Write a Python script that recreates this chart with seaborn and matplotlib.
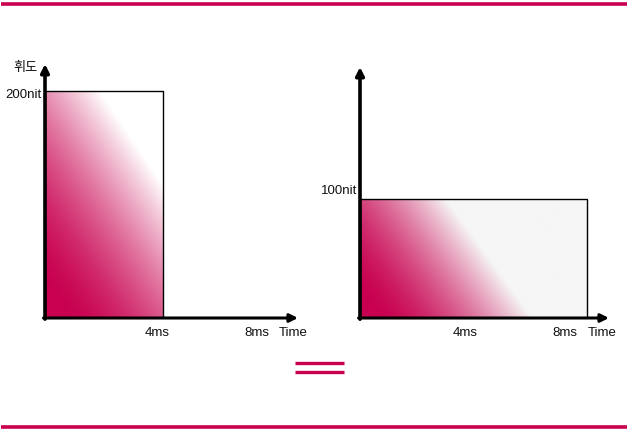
import numpy as np
import matplotlib
matplotlib.use("Agg")
import matplotlib.pyplot as plt
from matplotlib.patches import Rectangle
from matplotlib.lines import Line2D
import seaborn as sns

sns.set_theme(style="white")
plt.rcParams['font.family'] = ['Liberation Sans', 'Noto Sans CJK KR', 'DejaVu Sans']

# data: two driving schemes (pulse width vs luminance)
durations = [4, 8]            # ms
luminance = [200, 100]        # nit
lum_labels = ["200nit", "100nit"]
tick_vals = [4, 8]
tick_labels = ["4ms", "8ms"]
y_title = "휘도"
x_title = "Time"

crimson = np.array([200, 0, 79]) / 255.0
white = np.array([1.0, 1.0, 1.0])
light_gray = np.array([246, 246, 246]) / 255.0


def gradient(ny, nx, wx, wy, hold, end_color, power=1.6):
    # linear fade from the lower left corner, weights in normalised box coords
    u = np.linspace(0, 1, nx)[None, :]
    v = np.linspace(0, 1, ny)[:, None]
    t = u * wx + v * wy
    m = np.clip((t - hold) / (1 - hold), 0, 1) ** power
    img = crimson[None, None, :] * (1 - m[..., None]) + end_color[None, None, :] * m[..., None]
    return img


fig = plt.figure(figsize=(6.3, 4.3), dpi=100)
W, H = 630, 430

# panel geometry in pixels: (origin_x, px per ms, px per nit)
panels = [
    dict(x0=45, sx=29.5, sy=1.135, grad=(98 / 173, 127 / 173, 0.1, white),
         xarrow=298, yarrow=64, ticks=[157, 257], tpos=293),
    dict(x0=360, sx=28.375, sy=1.19, grad=(184 / 140, 70 / 140, 0.1, light_gray),
         xarrow=609, yarrow=67, ticks=[465, 565], tpos=602),
]
y0 = 318
top = 40

for i, p in enumerate(panels):
    right = p['x0'] + 265
    ax = fig.add_axes([p['x0'] / W, (H - y0) / H, (right - p['x0']) / W, (y0 - top) / H])
    xmax = (right - p['x0']) / p['sx']
    ymax = (y0 - top) / p['sy']
    ax.set_xlim(0, xmax)
    ax.set_ylim(0, ymax)
    ax.set_axis_off()

    d, l = durations[i], luminance[i]
    wx, wy, hold, endc = p['grad']
    img = gradient(240, 300, wx, wy, hold, endc)
    ax.imshow(img, extent=(0, d, 0, l), origin='lower', aspect='auto', zorder=1)
    ax.add_patch(Rectangle((0, 0), d, l, fill=False, edgecolor='black', lw=1.0, zorder=2))

    # axes with arrows
    xa = (p['xarrow'] - p['x0']) / p['sx']
    ya = (y0 - p['yarrow']) / p['sy']
    ax.annotate("", xy=(xa, 0), xytext=(-0.05, 0),
                arrowprops=dict(arrowstyle='-|>', lw=2.2, color='black',
                                mutation_scale=12, shrinkA=0, shrinkB=0),
                annotation_clip=False, zorder=3)
    ax.annotate("", xy=(0, ya), xytext=(0, -1),
                arrowprops=dict(arrowstyle='-|>', lw=2.6, color='black',
                                mutation_scale=12, shrinkA=0, shrinkB=0),
                annotation_clip=False, zorder=3)

    ty = -15 / p['sy']
    for px, lab in zip(p['ticks'], tick_labels):
        ax.text((px - p['x0']) / p['sx'], ty, lab, ha='center', va='center',
                fontsize=9.5, color='#111111', clip_on=False)
    ax.text((p['tpos'] - p['x0']) / p['sx'], ty, x_title, ha='center', va='center',
            fontsize=9.5, color='#111111', clip_on=False)
    ax.text(-3 / p['sx'], l + 1 / p['sy'] * (-4 if i == 0 else 8), lum_labels[i],
            ha='right', va='center', fontsize=9.5, color='#111111', clip_on=False)
    if i == 0:
        ax.text(-20 / p['sx'], (y0 - 68) / p['sy'], y_title, ha='center', va='center',
                fontsize=9.5, color='#111111', clip_on=False)

# decorative frame lines and equals sign
for yy in (3.5, 426.5):
    fig.add_artist(Line2D([1 / W, 627 / W], [1 - yy / H, 1 - yy / H],
                          color=crimson, lw=2.6, solid_capstyle='butt'))
for yy in (363, 372):
    fig.add_artist(Line2D([295 / W, 344 / W], [1 - yy / H, 1 - yy / H],
                          color=crimson, lw=2.4, solid_capstyle='butt'))

fig.savefig("out.png", dpi=100)
